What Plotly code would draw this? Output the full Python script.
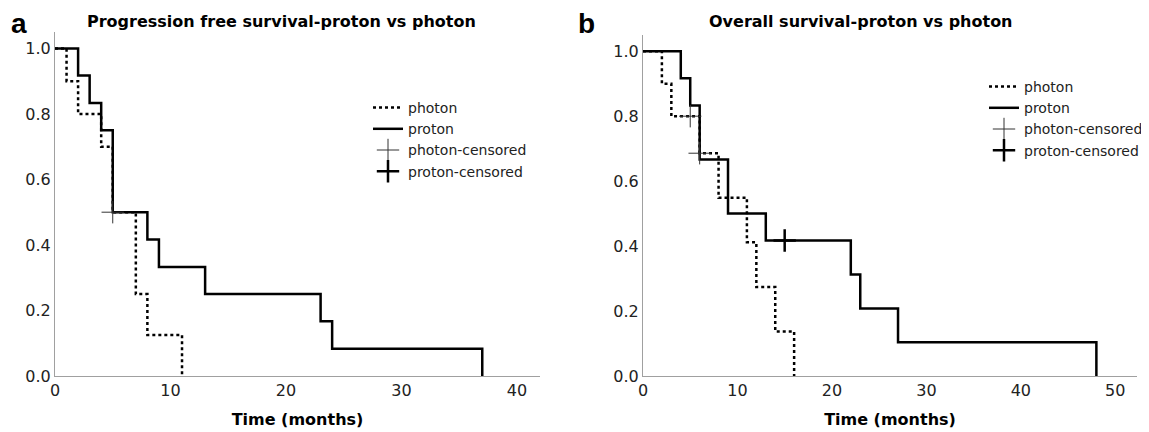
import plotly.graph_objects as go

#   Panel a - progression free survival (months, survival proportion)
pfs_photon_time = [0, 1, 2, 4, 5, 7, 8, 11]
pfs_photon_surv = [1.0, 0.9, 0.8, 0.7, 0.5, 0.25, 0.125, 0.0]
pfs_proton_time = [0, 2, 3, 4, 5, 8, 9, 13, 23, 24, 37]
pfs_proton_surv = [1.0, 0.917, 0.833, 0.75, 0.5, 0.417, 0.333, 0.25, 0.167, 0.083, 0.0]
pfs_photon_cens_time = [5]
pfs_photon_cens_surv = [0.5]
pfs_proton_cens_time = []
pfs_proton_cens_surv = []

#   Panel b - overall survival
os_photon_time = [0, 2, 3, 6, 8, 11, 12, 14, 16]
os_photon_surv = [1.0, 0.9, 0.8, 0.686, 0.549, 0.412, 0.274, 0.137, 0.0]
os_proton_time = [0, 4, 5, 6, 9, 13, 22, 23, 27, 48]
os_proton_surv = [1.0, 0.917, 0.833, 0.667, 0.5, 0.417, 0.3125, 0.208, 0.104, 0.0]
os_photon_cens_time = [5, 6]
os_photon_cens_surv = [0.8, 0.686]
os_proton_cens_time = [15]
os_proton_cens_surv = [0.417]

x_ticks_a = [0, 10, 20, 30, 40]
x_ticks_b = [0, 10, 20, 30, 40, 50]
y_ticks = [0.0, 0.2, 0.4, 0.6, 0.8, 1.0]

FONT = "DejaVu Sans"
#   the page body has an 8px margin, so the figure is 8px smaller than the window
OFF = 8
W, H = 1149 - OFF, 432 - OFF


def px(x):
    return (x - OFF) / W


def py(y):
    return 1 - (y - OFF) / H


def add_panel(fig, xa, ya, legend, photon, proton, photon_c, proton_c):
    fig.add_trace(go.Scatter(
        x=photon[0], y=photon[1], mode="lines", line_shape="hv",
        line=dict(color="black", width=2.5, dash="dot"),
        name="photon", xaxis=xa, yaxis=ya, legend=legend))
    fig.add_trace(go.Scatter(
        x=proton[0], y=proton[1], mode="lines", line_shape="hv",
        line=dict(color="black", width=2.5),
        name="proton", xaxis=xa, yaxis=ya, legend=legend))
    fig.add_trace(go.Scatter(
        x=photon_c[0], y=photon_c[1], mode="markers",
        marker=dict(symbol="cross-thin", size=16, line=dict(color="#333", width=1)),
        name="photon-censored", xaxis=xa, yaxis=ya, legend=legend))
    fig.add_trace(go.Scatter(
        x=proton_c[0] or [None], y=proton_c[1] or [None], mode="markers",
        marker=dict(symbol="cross-thin", size=16, line=dict(color="black", width=2.5)),
        name="proton-censored", xaxis=xa, yaxis=ya, legend=legend))


fig = go.Figure()
add_panel(fig, "x", "y", "legend",
          (pfs_photon_time, pfs_photon_surv), (pfs_proton_time, pfs_proton_surv),
          (pfs_photon_cens_time, pfs_photon_cens_surv),
          (pfs_proton_cens_time, pfs_proton_cens_surv))
add_panel(fig, "x2", "y2", "legend2",
          (os_photon_time, os_photon_surv), (os_proton_time, os_proton_surv),
          (os_photon_cens_time, os_photon_cens_surv),
          (os_proton_cens_time, os_proton_cens_surv))

axis_style = dict(showline=True, linecolor="#a0a0a0", linewidth=1, ticks="",
                  showgrid=False, zeroline=False, automargin=False,
                  tickfont=dict(family=FONT, size=16, color="#222"))
xtitle = dict(text="<b>Time (months)</b>", font=dict(family=FONT, size=16, color="black"),
              standoff=14)

legend_style = dict(xanchor="left", yanchor="top", bgcolor="rgba(0,0,0,0)",
                    font=dict(family=FONT, size=14, color="#222"),
                    tracegroupgap=0, itemwidth=30)

fig.update_layout(
    width=W, height=H,
    margin=dict(l=0, r=0, t=0, b=0),
    plot_bgcolor="white", paper_bgcolor="white",
    font=dict(family=FONT),
    xaxis=dict(domain=[px(55), px(540)], range=[0, 42], tickvals=x_ticks_a,
               anchor="y", title=xtitle, **axis_style),
    yaxis=dict(domain=[py(376), py(32)], range=[0, 1.05], tickvals=y_ticks,
               tickformat=".1f", anchor="x", **axis_style),
    xaxis2=dict(domain=[px(643), px(1137)], range=[0, 52.3], tickvals=x_ticks_b,
                anchor="y2", title=xtitle, **axis_style),
    yaxis2=dict(domain=[py(376), py(35)], range=[0, 1.05], tickvals=y_ticks,
                tickformat=".1f", anchor="x2", **axis_style),
    legend=dict(x=px(368), y=py(92), **legend_style),
    legend2=dict(x=px(984), y=py(71), **legend_style),
    showlegend=True,
)

#   Panel letters and titles
for letter, lx, title, tx in [("a", 9, "Progression free survival-proton vs photon", 281),
                              ("b", 576, "Overall survival-proton vs photon", 861)]:
    fig.add_annotation(text="<b>" + letter + "</b>", x=px(lx), y=py(24),
                       xref="paper", yref="paper", xanchor="left", yanchor="middle",
                       showarrow=False, font=dict(family="Liberation Sans", size=28, color="black"))
    fig.add_annotation(text="<b>" + title + "</b>", x=px(tx), y=py(21),
                       xref="paper", yref="paper", xanchor="center", yanchor="middle",
                       showarrow=False, font=dict(family=FONT, size=16, color="black"))

fig.write_html("out.html")
